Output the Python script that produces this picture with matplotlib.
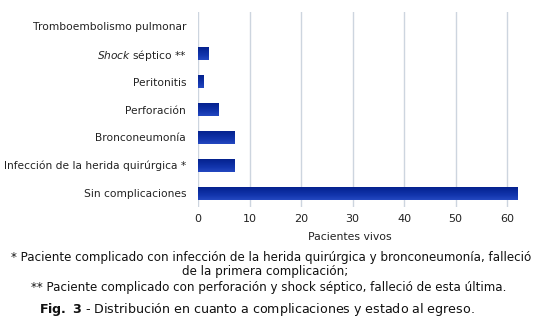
import numpy as np
import matplotlib
matplotlib.use("Agg")
import matplotlib.pyplot as plt
from matplotlib.colors import LinearSegmentedColormap

# Complication categories (top to bottom) and number of surviving patients
categories = [
    "Tromboembolismo pulmonar",
    r"$\it{Shock}$ séptico **",
    "Peritonitis",
    "Perforación",
    "Bronconeumonía",
    "Infección de la herida quirúrgica *",
    "Sin complicaciones",
]
pacientes_vivos = [0, 2, 1, 4, 7, 7, 62]
xticks = [0, 10, 20, 30, 40, 50, 60]

footnote_lines = [
    "* Paciente complicado con infección de la herida quirúrgica y bronconeumonía, falleció",
    "de la primera complicación;",
    "** Paciente complicado con perforación y shock séptico, falleció de esta última.",
]
caption = r"$\bf{Fig.\ 3}$ - Distribución en cuanto a complicaciones y estado al egreso."

plt.rcParams["font.family"] = ["DejaVu Sans"]
plt.rcParams["mathtext.fontset"] = "dejavusans"

fig = plt.figure(figsize=(5.4, 3.25), dpi=100)
W, H = 540, 325
left, right, top, bottom = 198, 520, 12, 207
ax = fig.add_axes([left / W, 1 - bottom / H, (right - left) / W, (bottom - top) / H])

n = len(categories)
ypos = np.arange(n)[::-1]
bar_h = 0.47

# vertical gradient for the bars: lighter top, deep navy bottom
grad_cmap = LinearSegmentedColormap.from_list(
    "bar_grad", ["#2448c0", "#1336ae", "#0a2a9c", "#04208a"])
grad = np.linspace(0, 1, 64).reshape(-1, 1)

bars = ax.barh(ypos, pacientes_vivos, height=bar_h, color="none", edgecolor="none", zorder=3)
for rect, val in zip(bars, pacientes_vivos):
    if val <= 0:
        continue
    x0, y0 = rect.get_x(), rect.get_y()
    w, h = rect.get_width(), rect.get_height()
    im = ax.imshow(grad, cmap=grad_cmap, aspect="auto",
                   extent=(x0, x0 + w, y0 + h, y0), origin="upper",
                   interpolation="bilinear", zorder=3)
    im.set_clip_path(rect)

ax.set_xlim(0, 62.5)
ax.set_ylim(-0.5, n - 0.5)
ax.set_xticks(xticks)
ax.set_xticklabels([str(t) for t in xticks], fontsize=8, color="#222222")
ax.set_yticks(ypos)
ax.set_yticklabels(categories, fontsize=7.65, color="#222222")
ax.tick_params(axis="both", length=0)
ax.tick_params(axis="x", pad=5)
ax.tick_params(axis="y", pad=8.5)
for s in ax.spines.values():
    s.set_visible(False)
ax.grid(axis="x", color="#cdd5df", linewidth=1.0, zorder=0)
ax.set_axisbelow(True)

ax.set_xlabel("Pacientes vivos", fontsize=7.8, color="#222222")
ax.xaxis.set_label_coords((350 - left) / (right - left), -(236.5 - bottom) / (bottom - top))
ax.xaxis.label.set_va("center")

# footnotes, one line at a time
for txt, (cx, cy) in zip(footnote_lines, [(271, 257), (265, 272), (268.5, 287)]):
    fig.text(cx / W, 1 - cy / H, txt, ha="center", va="center",
             fontsize=8.55, color="#111111")
fig.text(257 / W, 1 - 310 / H, caption, ha="center", va="center",
         fontsize=9.05, color="#111111")

fig.savefig("out.png", dpi=100, facecolor="white")
